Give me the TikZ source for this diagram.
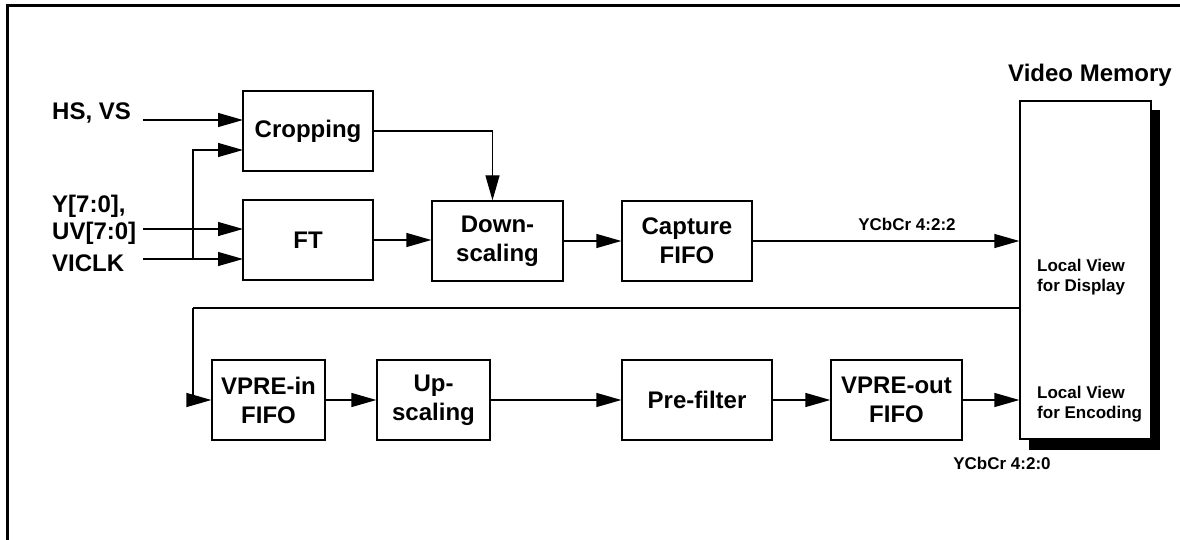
\documentclass[tikz,border=0pt]{standalone}
\usepackage{fontspec}
\setmainfont{Liberation Sans}
\usetikzlibrary{arrows.meta}
\tikzset{
  blk/.style={draw, line width=1.3pt, inner sep=0pt, align=center,
    font=\fontsize{24}{29}\selectfont\bfseries},
  arr/.style={line width=1.3pt, -{Triangle[length=25pt,width=14pt]}},
  ln/.style={line width=1.3pt},
  lbl/.style={font=\fontsize{24}{28}\selectfont\bfseries, inner sep=0pt},
  sml/.style={font=\fontsize{17}{20}\selectfont\bfseries, inner sep=0pt},
}
\begin{document}
\begin{tikzpicture}[x=1pt,y=-1pt]
\useasboundingbox (0,0) rectangle (1180,540);
% frame
\draw[line width=3pt] (7,540) -- (7,6) -- (1180,6);

% top row
\node[blk, minimum width=130, minimum height=80] (crop) at (308,131) {Cropping};
\node[blk, minimum width=130, minimum height=80] (ft) at (308,240) {FT};
\node[blk, minimum width=131, minimum height=80] (down) at (497.5,241) {Down-\\scaling};
\node[blk, minimum width=130, minimum height=80] (cap) at (687,241) {Capture\\FIFO};

% video memory
\fill (1029,110) rectangle (1160,450);
\node[blk, fill=white, minimum width=131, minimum height=338] (mem) at (1085.5,270) {};
\node[lbl, anchor=base] (memt) at (1090,82) {Video Memory};
\node[sml, anchor=west, align=left] (disp) at (1037,277) {Local View\\for Display};
\node[sml, anchor=west, align=left] (enc) at (1037,404) {Local View\\for Encoding};

% bottom row
\node[blk, minimum width=113, minimum height=80] (vin) at (268.5,400) {VPRE-in\\FIFO};
\node[blk, minimum width=113, minimum height=80] (up) at (433.5,400) {Up-\\scaling};
\node[blk, minimum width=150, minimum height=80] (pre) at (697,400) {Pre-filter};
\node[blk, minimum width=131, minimum height=80] (vout) at (896.5,400) {VPRE-out\\FIFO};

% input labels
\node[lbl, anchor=base west] (hs) at (52,120) {HS, VS};
\node[lbl, anchor=base west] (y) at (52,212) {Y[7:0],};
\node[lbl, anchor=base west] (uv) at (52,240) {UV[7:0]};
\node[lbl, anchor=base west] (clk) at (52,271) {VICLK};

% input coordinates
\coordinate (hsS) at (143,120);
\coordinate (hsE) at (243,120);
\coordinate (uvS) at (143,229);
\coordinate (uvE) at (243,229);
\coordinate (clkS) at (143,259);
\coordinate (clkE) at (243,259);
\coordinate (j) at (193,259);
\coordinate (c2) at (243,150);

\draw[arr] (hsS) -- (hsE);
\draw[arr] (uvS) -- (uvE);
\draw[arr] (clkS) -- (clkE);
\draw[arr] (j) |- (c2);

% top row connectors
\draw[arr] (crop.east) -| ([xshift=-5pt]down.north);
\draw[arr] (ft.east) -- (ft.east -| down.west);
\draw[arr] (down.east) -- (cap.west);
\draw[arr] (cap.east) -- (cap.east -| mem.west);
\node[sml] (l422) at (907,224) {YCbCr 4:2:2};

% feedback
\coordinate (mo) at (1020,308);
\coordinate (turn) at (193,308);
\draw[ln] (mo) -- (turn);
\draw[arr] (turn) |- (vin.west);

% bottom row connectors
\draw[arr] (vin.east) -- (up.west);
\draw[arr] (up.east) -- (pre.west);
\draw[arr] (pre.east) -- (vout.west);
\draw[arr] (vout.east) -- (vout.east -| mem.west);
\node[sml] (l420) at (1002,463) {YCbCr 4:2:0};
\end{tikzpicture}
\end{document}
